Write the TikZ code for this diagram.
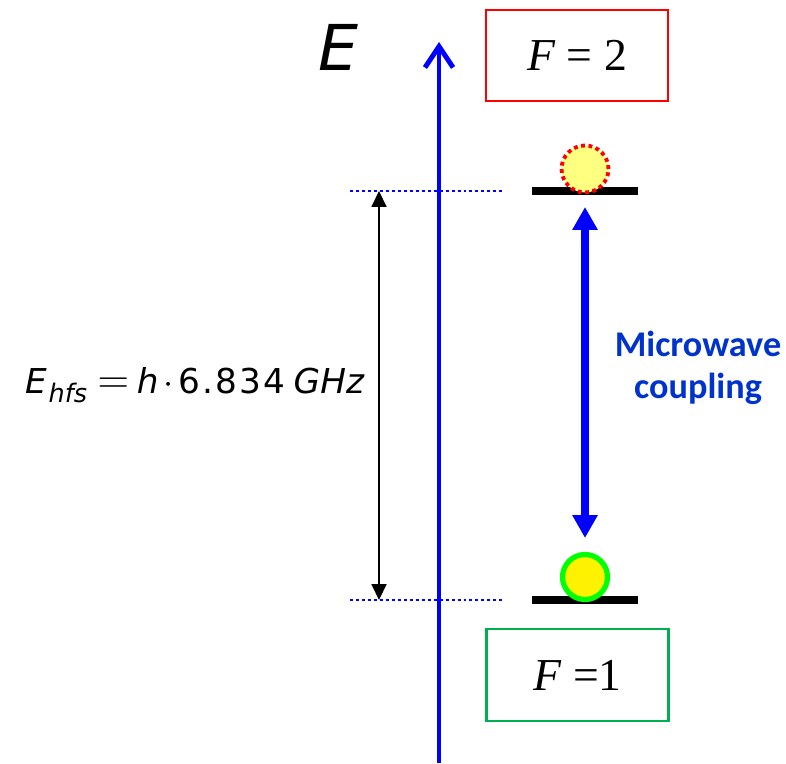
\documentclass[tikz,border=0pt]{standalone}
\usepackage{fontspec}
\setmainfont{DejaVu Sans}
\newfontfamily\calibrifont{Carlito}
\newfontfamily\timesfont{Liberation Serif}
\usetikzlibrary{arrows.meta}
\definecolor{boxred}{RGB}{255,0,0}
\definecolor{boxgreen}{RGB}{0,176,80}
\definecolor{mwblue}{RGB}{0,51,204}
\definecolor{paleyellow}{RGB}{255,255,128}
\definecolor{ringgreen}{RGB}{0,255,0}

\begin{document}
\begin{tikzpicture}[x=0.02cm, y=-0.02cm,
        statebar/.style={line width=4pt},
        guide/.style={blue, line width=1.1pt, dash pattern=on 1.7pt off 1.7pt},
        levelbox/.style={draw, line width=1.2pt, minimum width=3.64cm, minimum height=1.83cm,
                         font=\timesfont\fontsize{26}{26}\selectfont}]
        \useasboundingbox (0,0) rectangle (786,763);

        % Draw the energy axis
        \coordinate (axbot) at (439,763);
        \coordinate (axtop) at (439,42);
        \draw[blue, line width=2.8pt, -{Straight Barb[length=12pt,width=16pt]}] (axbot) -- (axtop);
        \node[font=\itshape\fontsize{36}{36}\selectfont] (E) at (338,47) {E};

        % Draw the two hyperfine levels
        \coordinate (upL) at (532,191);
        \coordinate (upR) at (638,191);
        \coordinate (loL) at (532,600);
        \coordinate (loR) at (638,600);
        \draw[statebar] (upL) -- (upR);
        \draw[statebar] (loL) -- (loR);

        % Dotted guide lines
        \coordinate (gupL) at (350,191);
        \coordinate (gupR) at (502,191);
        \coordinate (gloL) at (350,600);
        \coordinate (gloR) at (502,600);
        \draw[guide] (gupL) -- (gupR);
        \draw[guide] (gloL) -- (gloR);

        % Level labels
        \node[levelbox, draw=boxred] (F2) at (577,55.5) {\textit{F} = 2};
        \node[levelbox, draw=boxgreen] (F1) at (577.5,675) {\textit{F} =1};

        % Atoms
        \node[circle, draw=red, fill=paleyellow, line width=2.2pt,
              dash pattern=on 2.2pt off 2pt, minimum size=0.94cm, inner sep=0pt] (atomup) at (585,169) {};
        \node[circle, draw=ringgreen, fill=yellow, line width=3pt,
              minimum size=0.9cm, inner sep=0pt] (atomlo) at (585,577) {};

        % Splitting E_hfs
        \coordinate (gapTop) at (379,191);
        \coordinate (gapBot) at (379,600);
        \draw[line width=0.85pt, {Triangle[length=9pt,width=8.5pt]}-{Triangle[length=9pt,width=8.5pt]}] (gapTop) -- (gapBot);
        \node[anchor=east, inner sep=0pt, font=\fontsize{19.5}{20}\selectfont] (Ehfs) at (365,385)
             {\textit{E}\kern1pt\raisebox{-0.5ex}{\fontsize{14.5}{14}\selectfont\textit{hfs}}\kern6pt
              {\fontsize{25}{25}\selectfont$=$}\kern4.5pt\textit{h}\kern3pt$\cdot$\kern2.5pt
              6\kern1.2pt.\kern1.2pt8\kern1.2pt3\kern1.2pt4\kern5pt\textit{GHz}};

        % Microwave coupling
        \coordinate (mwTop) at (585,207);
        \coordinate (mwBot) at (585,538);
        \draw[blue, line width=4.5pt, {Triangle[length=13pt,width=13.6pt]}-{Triangle[length=13pt,width=13.6pt]}] (mwTop) -- (mwBot);
        \node[font=\calibrifont\bfseries\fontsize{20.6}{24}\selectfont, text=mwblue, align=center] (mw) at (698,368)
             {Microwave\\coupling};

\end{tikzpicture}
\end{document}
